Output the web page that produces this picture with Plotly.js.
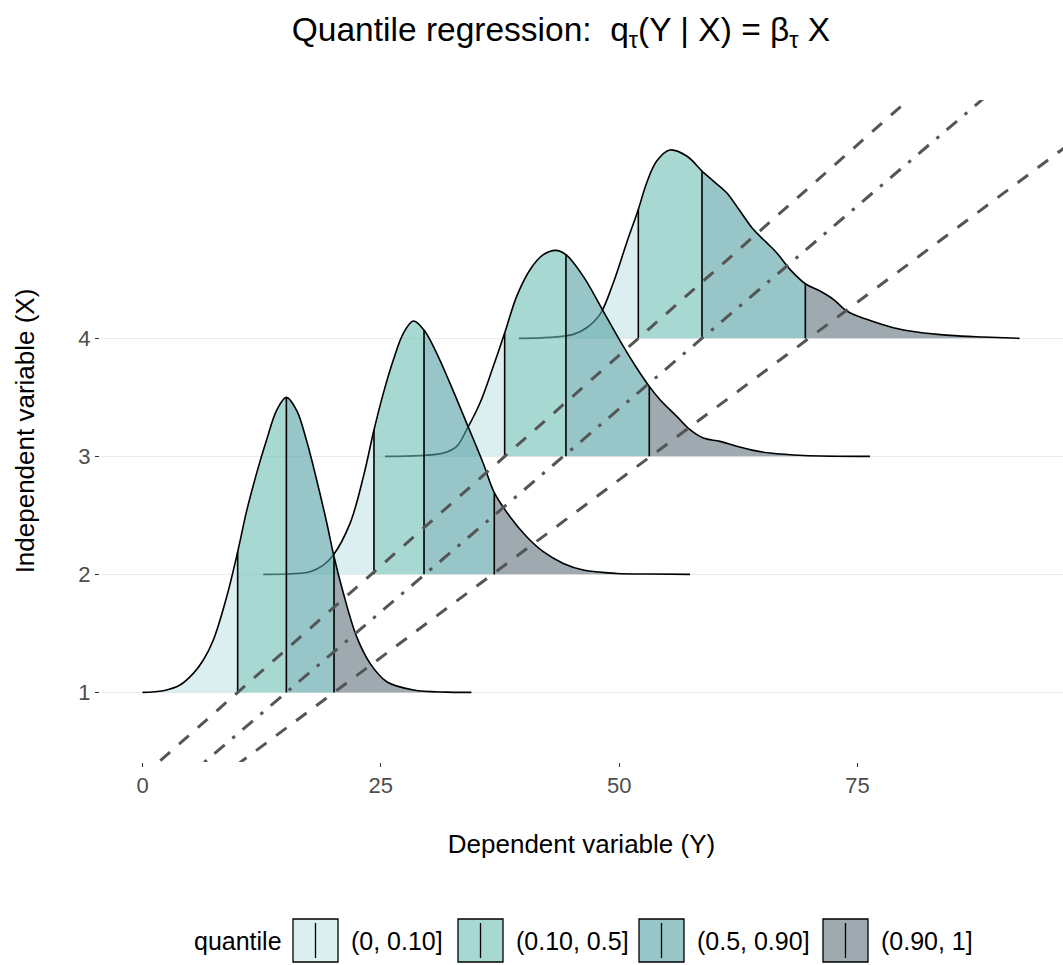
<!DOCTYPE html>
<html>
<head>
<meta charset="utf-8">
<script src="https://cdn.plot.ly/plotly-3.0.1.min.js"></script>
<style>
html,body{margin:0;padding:0;background:#fff;}
#chart{width:1063px;height:965px;}
</style>
</head>
<body>
<div id="chart"></div>
<script>
// ---------------- data ----------------
const xLevels = [1, 2, 3, 4];                       // independent variable (X)
const xTickVals = [0, 25, 50, 75];
const yTickVals = [1, 2, 3, 4];
const quantileLabels = ['(0, 0.10]', '(0.10, 0.5]', '(0.5, 0.90]', '(0.90, 1]'];

// density outlines: Y value and ridge height (in X units above the baseline)
const ridge1Y = [0, 2.19, 3.93, 5.33, 6.38, 7.43, 8.83, 9.98, 10.93, 11.98, 13.02, 14.07, 15.09, 16.17, 17.22, 18.27, 19.32, 20.09, 21.07, 22.47, 23.87, 25.62, 28.42, 31.9, 34.5];
const ridge1H = [0, 0.014, 0.062, 0.161, 0.274, 0.444, 0.81, 1.19, 1.54, 1.86, 2.14, 2.39, 2.5, 2.39, 2.13, 1.8, 1.44, 1.15, 0.84, 0.47, 0.246, 0.09, 0.02, 0.002, 0];

const ridge2Y = [12.67, 15.12, 17.57, 18.97, 20.02, 21.77, 23.17, 24.28, 25.26, 26.31, 27.36, 28.41, 29.53, 30.86, 32.26, 34.01, 35.75, 36.9, 38.55, 40.3, 42.04, 44.14, 46.24, 49.74, 53.24, 57.43];
const ridge2H = [0, 0.003, 0.023, 0.079, 0.164, 0.432, 0.828, 1.223, 1.534, 1.816, 2.042, 2.147, 2.07, 1.873, 1.619, 1.28, 0.94, 0.692, 0.489, 0.319, 0.192, 0.093, 0.037, 0.008, 0.003, 0];

const ridge3Y = [25.44, 29.11, 31.56, 32.96, 34.0, 35.4, 36.8, 37.99, 39.25, 40.65, 42.04, 43.34, 44.42, 46.24, 48.34, 50.44, 51.84, 53.16, 54.29, 56.04, 57.43, 58.83, 60.58, 62.33, 64.07, 65.82, 69.32, 76.31];
const ridge3H = [0, 0.006, 0.028, 0.085, 0.226, 0.452, 0.763, 1.045, 1.356, 1.582, 1.709, 1.746, 1.709, 1.525, 1.229, 0.932, 0.749, 0.593, 0.48, 0.339, 0.226, 0.155, 0.127, 0.085, 0.051, 0.028, 0.008, 0];

const ridge4Y = [39.49, 42.75, 45.19, 46.59, 47.99, 49.39, 50.79, 52.01, 52.89, 53.94, 55.33, 57.09, 58.69, 59.88, 61.28, 62.68, 64.07, 65.47, 66.52, 67.92, 69.53, 71.07, 72.47, 73.87, 75.97, 78.76, 81.21, 84.71, 88.2, 92.0];
const ridge4H = [0, 0.008, 0.034, 0.09, 0.203, 0.472, 0.811, 1.093, 1.319, 1.503, 1.596, 1.545, 1.418, 1.333, 1.234, 1.079, 0.924, 0.811, 0.726, 0.585, 0.463, 0.401, 0.331, 0.232, 0.161, 0.09, 0.054, 0.025, 0.011, 0];

// conditional quantiles (0.10, 0.50, 0.90) of Y for each X
const quant1 = [9.98, 15.09, 20.09];
const quant2 = [24.28, 29.53, 36.9];
const quant3 = [37.99, 44.42, 53.16];
const quant4 = [52.01, 58.69, 69.53];

// quantile regression lines  Y = a + b * X
const regTau = ['0.10', '0.50', '0.90'];
const regIntercept = [-4.03, 0.56, 3.5];
const regSlope = [14.01, 14.53, 16.6];

// ---------------- styling ----------------
const fillColors = ['rgba(197,228,230,0.6)', 'rgba(110,190,180,0.6)', 'rgba(83,158,163,0.6)', 'rgba(93,113,123,0.6)'];
const FONT = 'Liberation Sans, Arial, Helvetica, sans-serif';
const W = 1063, H = 965;
const M = {l: 100, r: 0, t: 100, b: 203};
const PW = W - M.l - M.r, PH = H - M.t - M.b;
const px2x = p => (p - M.l) / PW;
const py2y = p => (H - M.b - p) / PH;

const ridges = [
  {x: xLevels[0], Y: ridge1Y, H: ridge1H, q: quant1},
  {x: xLevels[1], Y: ridge2Y, H: ridge2H, q: quant2},
  {x: xLevels[2], Y: ridge3Y, H: ridge3H, q: quant3},
  {x: xLevels[3], Y: ridge4Y, H: ridge4H, q: quant4}
];

function heightAt(r, v) {
  const i = r.Y.indexOf(v);
  if (i >= 0) return r.H[i];
  for (let k = 0; k < r.Y.length - 1; k++) {
    if (v >= r.Y[k] && v <= r.Y[k + 1]) {
      const t = (v - r.Y[k]) / (r.Y[k + 1] - r.Y[k]);
      return r.H[k] + t * (r.H[k + 1] - r.H[k]);
    }
  }
  return 0;
}

const traces = [];
const base = {type: 'scatter', mode: 'lines', hoverinfo: 'skip', showlegend: false};

// draw back (top) ridge first so lower ridges lie in front
[...ridges].reverse().forEach(r => {
  const bounds = [r.Y[0], ...r.q, r.Y[r.Y.length - 1]];
  for (let s = 0; s < 4; s++) {
    const lo = bounds[s], hi = bounds[s + 1];
    const xs = [], ys = [];
    if (r.Y.indexOf(lo) < 0) { xs.push(lo); ys.push(r.x + heightAt(r, lo)); }
    r.Y.forEach((v, i) => { if (v >= lo && v <= hi) { xs.push(v); ys.push(r.x + r.H[i]); } });
    if (r.Y.indexOf(hi) < 0) { xs.push(hi); ys.push(r.x + heightAt(r, hi)); }
    traces.push(Object.assign({}, base, {
      x: [lo, hi], y: [r.x, r.x], line: {width: 0, color: 'rgba(0,0,0,0)'}
    }));
    traces.push(Object.assign({}, base, {
      x: xs, y: ys, fill: 'tonexty', fillcolor: fillColors[s],
      line: {width: 0, color: 'rgba(0,0,0,0)', shape: 'spline', smoothing: 1}
    }));
  }
  traces.push(Object.assign({}, base, {
    x: r.Y, y: r.H.map(h => r.x + h),
    line: {color: '#000', width: 1.6, shape: 'spline', smoothing: 1}
  }));
  r.q.forEach(qv => {
    traces.push(Object.assign({}, base, {
      x: [qv, qv], y: [r.x, r.x + heightAt(r, qv)],
      line: {color: '#000', width: 1.6}
    }));
  });
});

// regression lines (clipped by the plot area)
const Xends = [0, 7];
const dashes = ['13px,12px', '3.4px,10px,13.6px,10px', '13px,12px'];
regTau.forEach((t, k) => {
  traces.push(Object.assign({}, base, {
    x: Xends.map(X => regIntercept[k] + regSlope[k] * X), y: Xends,
    line: {color: '#555555', width: 3, dash: dashes[k]}
  }));
});

// ---------------- custom legend ----------------
const shapes = [];
const annotations = [];
const keyLeft = [293, 458, 639, 823];
const keyW = 45, keyTop = 919, keyBot = 962;
const legendMid = (keyTop + keyBot) / 2;
annotations.push({
  xref: 'paper', yref: 'paper', x: px2x(284), y: py2y(legendMid), xanchor: 'right', yanchor: 'middle',
  text: 'quantile', showarrow: false, font: {family: FONT, size: 25, color: '#000'}
});
quantileLabels.forEach((lab, i) => {
  shapes.push({
    type: 'rect', xref: 'paper', yref: 'paper',
    x0: px2x(keyLeft[i]), x1: px2x(keyLeft[i] + keyW), y0: py2y(keyBot), y1: py2y(keyTop),
    fillcolor: fillColors[i], line: {color: '#000', width: 1.3}
  });
  shapes.push({
    type: 'line', xref: 'paper', yref: 'paper',
    x0: px2x(keyLeft[i] + keyW / 2), x1: px2x(keyLeft[i] + keyW / 2),
    y0: py2y(keyBot - 4), y1: py2y(keyTop + 4), line: {color: '#000', width: 1.3}
  });
  annotations.push({
    xref: 'paper', yref: 'paper', x: px2x(keyLeft[i] + keyW + 11), y: py2y(legendMid),
    xanchor: 'left', yanchor: 'middle', text: lab, showarrow: false,
    font: {family: FONT, size: 25, color: '#000'}
  });
});

const layout = {
  width: W, height: H,
  margin: {l: M.l, r: M.r, t: M.t, b: M.b, pad: 0},
  paper_bgcolor: '#ffffff', plot_bgcolor: '#ffffff',
  font: {family: FONT, color: '#000'},
  showlegend: false,
  title: {
    text: 'Quantile regression:  q<sub>τ</sub>(Y | X) = β<sub>τ</sub> X',
    font: {family: FONT, size: 33.5, color: '#000'},
    xref: 'container', yref: 'container',
    x: 561 / W, xanchor: 'center', y: 1 - 29 / H, yanchor: 'middle'
  },
  xaxis: {
    range: [-4.46, 96.56],
    tickmode: 'array', tickvals: xTickVals, ticktext: xTickVals.map(String),
    showgrid: true, gridcolor: '#ffffff', gridwidth: 1.5,
    zeroline: false, showline: false,
    ticks: 'outside', ticklen: 4, tickwidth: 1.1, tickcolor: '#333333',
    tickfont: {family: FONT, size: 22, color: '#4d4d4d'},
    title: {text: 'Dependent variable (Y)', font: {family: FONT, size: 26, color: '#000'}, standoff: 37},
    fixedrange: true
  },
  yaxis: {
    range: [0.41, 6.02],
    tickmode: 'array', tickvals: yTickVals, ticktext: yTickVals.map(String),
    showgrid: true, gridcolor: '#ebebeb', gridwidth: 1.6,
    zeroline: false, showline: false,
    ticks: 'outside', ticklen: 4, tickwidth: 1.1, tickcolor: '#333333',
    tickfont: {family: FONT, size: 22, color: '#4d4d4d'},
    title: {text: 'Independent variable (X)', font: {family: FONT, size: 26, color: '#000'}, standoff: 36},
    fixedrange: true
  },
  shapes: shapes,
  annotations: annotations
};

Plotly.newPlot('chart', traces, layout, {displayModeBar: false, staticPlot: true});
</script>
</body>
</html>
